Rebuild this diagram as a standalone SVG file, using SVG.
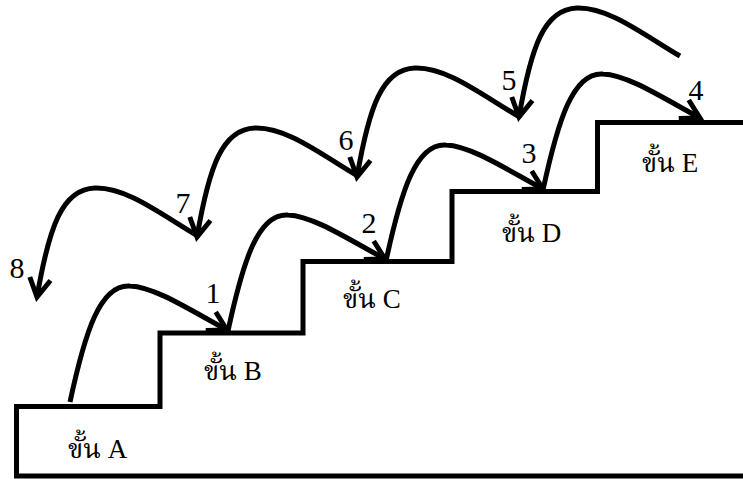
<svg xmlns="http://www.w3.org/2000/svg" width="743" height="479" viewBox="0 0 743 479">
<style>
.stair{fill:none;stroke:#000;stroke-width:5;stroke-linejoin:miter}
.arr{fill:none;stroke:#000;stroke-width:5;marker-end:url(#ah)}
.lbl{font-family:"Liberation Serif","Noto Serif Thai","Noto Sans Thai","DejaVu Serif",serif;font-size:27px;fill:#000}
.num{font-family:"Liberation Serif","Times New Roman",serif;font-size:30px;fill:#000;text-anchor:middle}
</style>
<defs>
<marker id="ah" markerUnits="userSpaceOnUse" orient="auto" refX="0" refY="0" markerWidth="40" markerHeight="40" viewBox="-30 -20 40 40" overflow="visible">
<path d="M-18.5 -10.5 L0 0 L-18.5 10.5" fill="none" stroke="#000" stroke-width="5"/>
</marker>
<path id="fwd" d="M0 0 C15 -70 30 -118 60 -116 C85 -115 120 -92 157 -72"/>
<path id="bwd" d="M161 -61 C125 -82 90 -110 58 -109 C25 -108 12 -70 0 0"/>
</defs>
<rect width="743" height="479" fill="#fff"/>
<g id="stairs">
<path class="stair" d="M743 476 L16.5 476 L16.5 406.5 L160 406.5 L160 333 L303 333 L303 261.5 L452 261.5 L452 191.5 L597.5 191.5 L597.5 122.5 L743 122.5"/>
</g>
<g id="step-A"><text class="lbl" x="68" y="458">ขั้น A</text></g>
<g id="step-B"><text class="lbl" x="204" y="380">ขั้น B</text></g>
<g id="step-C"><text class="lbl" x="343" y="308">ขั้น C</text></g>
<g id="step-D"><text class="lbl" x="502" y="242">ขั้น D</text></g>
<g id="step-E"><text class="lbl" x="642" y="172">ขั้น E</text></g>
<g id="connectors">
<use href="#fwd" class="arr" transform="translate(70 402)"/>
<use href="#fwd" class="arr" transform="translate(228 331)"/>
<use href="#fwd" class="arr" transform="translate(386 261)"/>
<use href="#fwd" class="arr" transform="translate(543 190)"/>
<use href="#bwd" class="arr" transform="translate(519 117)"/>
<use href="#bwd" class="arr" transform="translate(357 177)"/>
<use href="#bwd" class="arr" transform="translate(197 237)"/>
<use href="#bwd" class="arr" transform="translate(37 297)"/>
</g>
<g id="labels">
<text class="num" x="213" y="303">1</text>
<text class="num" x="369" y="233">2</text>
<text class="num" x="529" y="163">3</text>
<text class="num" x="696" y="100">4</text>
<text class="num" x="509" y="90">5</text>
<text class="num" x="346" y="150">6</text>
<text class="num" x="183" y="213">7</text>
<text class="num" x="17" y="278">8</text>
</g>
</svg>
